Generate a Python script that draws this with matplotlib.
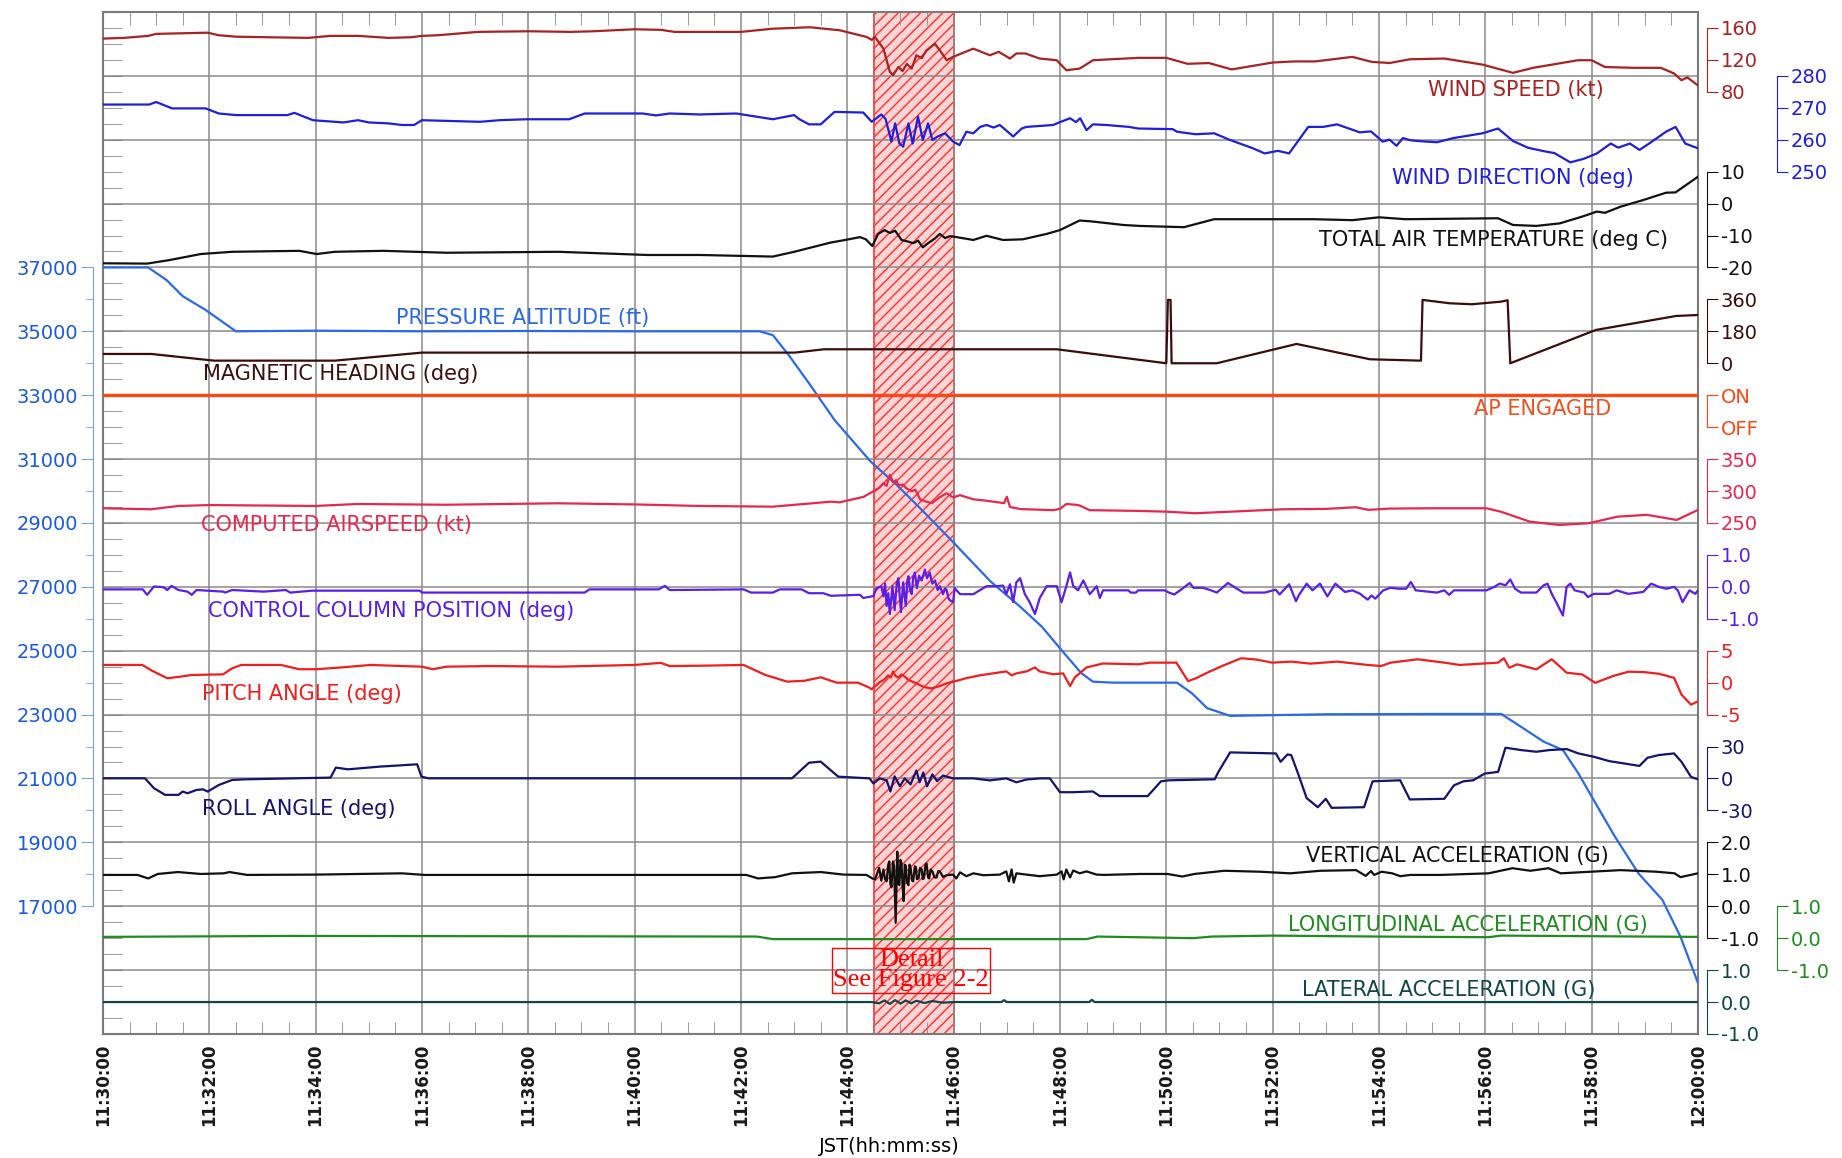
import numpy as np
import matplotlib.pyplot as plt
from matplotlib.ticker import MultipleLocator

# time axis: minutes after 11:30:00 JST
time_ticks = list(range(0, 31, 2))
time_labels = ['11:%02d:00' % (30 + m) if m < 30 else '12:00:00' for m in time_ticks]

# ---- series: (minute, value) ----
wind_speed = [(0, 146.6), (0.4, 147.5), (0.85, 150), (1.0, 152.5), (1.5, 153.3), (1.97, 154), (2.18, 150.8),
              (2.5, 149), (3.1, 148.3), (3.86, 147.5), (4.28, 150), (4.8, 150), (5.37, 147.5), (5.8, 148.3),
              (6.0, 150), (6.3, 150.8), (7.05, 155), (8.0, 155.8), (8.8, 155), (9.23, 155.8), (10.0, 158.3),
              (10.5, 157.5), (10.75, 155), (11.23, 155), (12.0, 155), (12.6, 159), (13.3, 160.8), (13.86, 157),
              (14.36, 148.7), (14.46, 145), (14.52, 148.7), (14.68, 134), (14.8, 105), (14.86, 100.8),
              (14.96, 111), (15.04, 106), (15.12, 115), (15.21, 109), (15.3, 125.8), (15.4, 122), (15.49, 132),
              (15.65, 140), (15.74, 132), (15.87, 119.5), (15.99, 123.7), (16.37, 134), (16.68, 125.8),
              (16.85, 130), (17.06, 121.6), (17.18, 128), (17.35, 128), (17.62, 121.6), (17.94, 119.5),
              (18.12, 107), (18.37, 109), (18.62, 119.5), (19.47, 122.5), (20.0, 122.5), (20.4, 115),
              (20.8, 116), (21.23, 108), (22.0, 116.6), (22.4, 118), (22.8, 118), (23.5, 123.7), (23.86, 117.5),
              (24.2, 116), (24.58, 120.7), (25.23, 121.6), (25.95, 114), (26.52, 103.7), (26.9, 110),
              (27.74, 119.5), (28.0, 119.5), (28.25, 111), (28.8, 110), (29.3, 110), (29.55, 103),
              (29.69, 94.5), (29.8, 98), (30, 88)]

wind_dir = [(0, 271), (0.87, 271), (1.0, 271.8), (1.3, 269.8), (1.93, 269.8), (2.18, 268.2), (2.5, 267.7),
            (3.47, 267.7), (3.6, 268.4), (3.95, 266.1), (4.52, 265.4), (4.8, 266.1), (5.0, 265.4), (5.37, 265.1),
            (5.62, 264.6), (5.85, 264.6), (6.0, 266.1), (7.09, 265.6), (7.46, 266.1), (7.97, 266.4),
            (8.77, 266.4), (9.06, 268.2), (10.15, 268.2), (10.4, 267.6), (10.66, 268.2), (11.23, 267.9),
            (11.91, 268.2), (12.6, 266.4), (13.0, 267.7), (13.1, 266.4), (13.28, 264.8), (13.5, 264.8),
            (13.76, 268.7), (14.3, 268.5), (14.46, 265.6), (14.64, 267.9), (14.72, 266.5), (14.83, 259.4),
            (14.9, 265.1), (14.98, 258.8), (15.05, 257.8), (15.15, 265.1), (15.23, 258.8), (15.33, 267.2),
            (15.42, 259.9), (15.52, 265.1), (15.6, 259.9), (15.7, 261), (15.84, 262), (15.99, 259.4),
            (16.11, 258.3), (16.24, 262.5), (16.37, 262), (16.5, 264), (16.62, 264.6), (16.75, 263.8),
            (16.87, 264.6), (17.12, 261), (17.28, 263.5), (17.37, 264), (17.87, 264.6), (18.0, 265.5),
            (18.19, 266.7), (18.3, 265.5), (18.38, 266.7), (18.5, 263), (18.62, 264.8), (18.87, 264.6),
            (19.3, 264), (19.47, 263.5), (20.12, 263.3), (20.2, 262.5), (20.55, 261.7), (20.9, 262),
            (21.2, 259.9), (21.63, 257.3), (21.85, 255.7), (22.1, 256.5), (22.31, 255.7), (22.67, 264),
            (22.95, 264), (23.21, 264.8), (23.64, 262.3), (23.85, 262.6), (24.07, 259.4), (24.2, 260),
            (24.33, 258.1), (24.45, 260.5), (24.6, 259.8), (24.8, 259.5), (25.09, 259.2), (25.4, 260.5),
            (25.95, 262), (26.24, 263.5), (26.52, 259.6), (26.8, 257.5), (27.1, 256.4), (27.3, 255.8),
            (27.6, 252.9), (27.85, 254), (28.1, 255.7), (28.36, 258.8), (28.5, 257.5), (28.72, 258.8),
            (28.9, 256.8), (29.1, 259), (29.4, 262.5), (29.58, 264), (29.76, 258.8), (30, 257.3)]

air_temp = [(0, -18.7), (0.83, -18.8), (1.25, -17.7), (1.84, -15.8), (2.43, -15.1), (3.69, -14.8),
            (4.02, -15.8), (4.36, -15.1), (5.28, -14.8), (6.46, -15.4), (8.56, -15.1), (10.24, -16.1),
            (11.23, -16.1), (12.6, -16.6), (13.0, -15.1), (13.69, -12.2), (13.96, -11.4), (14.24, -10.5),
            (14.35, -11.2), (14.47, -13.3), (14.58, -9.5), (14.7, -8.3), (14.8, -9.2), (14.9, -8.5),
            (15.02, -11.4), (15.12, -11.8), (15.24, -12.4), (15.33, -11.6), (15.42, -13.7), (15.52, -12.4),
            (15.65, -10.9), (15.74, -9.5), (15.84, -10.8), (15.93, -10.2), (16.02, -10.4), (16.37, -11.4),
            (16.62, -10.1), (16.93, -11.4), (17.3, -11.2), (17.75, -9.5), (18.0, -8.3), (18.37, -5.3),
            (18.6, -5.6), (19.19, -6.7), (19.5, -7.0), (20.33, -7.4), (20.9, -4.9), (22.78, -4.9),
            (23.5, -5.2), (24.0, -4.3), (24.5, -4.9), (26.24, -4.6), (26.52, -6.7), (26.96, -7.0),
            (27.4, -6.2), (27.82, -4.1), (28.1, -2.5), (28.25, -2.9), (28.54, -1.0), (28.97, 1.1),
            (29.4, 3.4), (29.58, 3.5), (29.69, 4.8), (30, 8.4)]

altitude = [(0, 37000), (0.85, 37000), (1.2, 36600), (1.5, 36100), (1.93, 35670), (2.5, 35000), (4, 35020),
            (6, 35000), (8, 35010), (10, 35000), (12.35, 35000), (12.6, 34880), (12.9, 34250), (13.28, 33373),
            (13.76, 32224), (14.44, 30920), (14.93, 30190), (15.34, 29510), (15.95, 28470), (16.7, 27160),
            (17.25, 26380), (17.66, 25750), (18.08, 24920), (18.4, 24300), (18.62, 24030), (19, 24000),
            (20.2, 24000), (20.48, 23670), (20.77, 23200), (21.2, 22960), (23, 23010), (25, 23020),
            (26.3, 23020), (26.67, 22620), (27.1, 22150), (27.46, 21890), (27.75, 21160), (28.11, 20120),
            (28.43, 19200), (28.88, 18030), (29.33, 17200), (29.67, 16050), (30, 14600)]

heading = [(0, 52.4), (0.91, 52.4), (2.09, 14.7), (4.36, 14.7), (6.0, 60), (13.01, 60), (13.56, 78.8),
           (17.94, 78.8), (20.0, 0), (20.03, 357), (20.08, 357), (20.1, 0), (20.95, 0), (22.45, 108.8),
           (23.83, 22.5), (24.79, 14.7), (24.82, 357), (25.33, 338), (25.75, 332.5), (26.29, 347),
           (26.42, 355), (26.47, 0), (28.08, 187.7), (29.59, 266.6), (30, 272)]

ap_engaged = [(0, 1), (30, 1)]

airspeed = [(0, 273), (0.9, 271.4), (1.42, 276.6), (2.0, 278), (4.0, 276.6), (4.78, 279.7), (6.46, 278.5),
            (8.56, 280.8), (10.0, 279), (11.23, 276.6), (12.6, 275.5), (13.69, 283.3), (13.86, 282.3),
            (14.31, 291), (14.49, 299.6), (14.6, 305), (14.68, 312), (14.74, 308), (14.8, 325.6), (14.86, 314),
            (14.92, 317), (14.96, 309), (15.05, 310), (15.1, 305), (15.21, 299.6), (15.28, 302), (15.37, 287),
            (15.46, 284), (15.59, 281), (15.74, 290.4), (15.87, 296.5), (15.99, 290), (16.12, 293.5),
            (16.37, 287), (16.6, 285), (16.95, 281), (17.0, 291), (17.06, 275), (17.25, 271.8), (17.87, 270),
            (18.0, 272), (18.12, 279.7), (18.35, 278), (18.56, 270), (19.5, 268.8), (20.0, 267.7),
            (20.54, 265.2), (21.3, 268), (22.19, 271.4), (23.0, 272), (23.56, 274.6), (23.8, 270.5),
            (24.2, 272.5), (25.0, 273), (26.02, 273), (26.29, 267.7), (26.84, 252), (27.39, 246.9),
            (27.94, 249.5), (28.49, 259.9), (29.04, 262.7), (29.6, 254.7), (30, 270.4)]

column = [(0, -0.08), (0.75, -0.08), (0.83, -0.25), (0.96, 0.01), (1.13, -0.01), (1.21, -0.10), (1.29, 0.03),
          (1.42, -0.10), (1.59, -0.15), (1.67, -0.25), (1.76, -0.10), (2.26, -0.15), (2.3, -0.18),
          (2.43, -0.10), (3.02, -0.15), (3.44, -0.10), (3.52, -0.18), (3.94, -0.12), (5.96, -0.12),
          (6.0, -0.18), (9.06, -0.18), (9.15, -0.08), (10.45, -0.08), (10.57, 0.03), (10.66, -0.10),
          (12.05, -0.08), (12.19, -0.18), (12.6, -0.18), (12.73, -0.08), (13.14, -0.08), (13.28, -0.2),
          (13.55, -0.2), (13.69, -0.28), (14.24, -0.25), (14.3, -0.35), (14.49, -0.29), (14.55, -0.04),
          (14.64, 0.02), (14.68, -0.3), (14.71, 0.1), (14.74, -0.60), (14.77, -0.2), (14.8, -0.85),
          (14.85, 0.02), (14.89, -0.73), (14.93, 0.1), (14.96, 0.27), (15.01, -0.79), (15.05, 0.14),
          (15.08, -0.3), (15.1, -0.6), (15.13, 0.2), (15.15, 0.33), (15.18, -0.1), (15.21, -0.23),
          (15.24, 0.3), (15.27, 0.45), (15.31, -0.04), (15.35, 0.35), (15.4, 0.20), (15.46, 0.54),
          (15.5, 0.27), (15.55, 0.45), (15.6, 0.1), (15.65, 0.20), (15.7, -0.1), (15.74, 0.02), (15.8, -0.23),
          (15.84, -0.05), (15.87, -0.11), (15.9, -0.35), (15.93, -0.42), (15.99, -0.48), (16.02, -0.04),
          (16.12, -0.23), (16.37, -0.23), (16.49, -0.11), (16.62, 0.02), (16.81, 0.02), (16.93, 0.04),
          (16.99, -0.23), (17.06, 0.08), (17.12, -0.48), (17.18, 0.14), (17.25, 0.27), (17.34, -0.23),
          (17.43, -0.48), (17.53, -0.85), (17.62, -0.35), (17.75, 0.02), (17.94, 0.02), (18.03, -0.48),
          (18.12, 0.02), (18.19, 0.45), (18.25, 0.02), (18.34, -0.11), (18.44, 0.20), (18.56, -0.23),
          (18.69, 0.02), (18.75, -0.35), (18.81, -0.11), (19.29, -0.11), (19.33, -0.18), (19.43, -0.18),
          (19.47, -0.11), (19.97, -0.11), (20.05, -0.18), (20.15, -0.24), (20.3, -0.06), (20.44, 0.12),
          (20.51, -0.03), (20.69, -0.03), (20.84, -0.11), (20.95, -0.18), (21.16, 0.12), (21.27, 0.0),
          (21.45, -0.18), (21.85, -0.18), (22.06, -0.09), (22.13, -0.24), (22.31, 0.08), (22.44, -0.45),
          (22.49, -0.27), (22.64, 0.10), (22.75, -0.11), (22.89, 0.10), (23.03, -0.30), (23.18, 0.10),
          (23.36, -0.16), (23.5, -0.11), (23.65, -0.22), (23.72, -0.32), (23.79, -0.40), (23.86, -0.27),
          (23.93, -0.37), (24.08, -0.11), (24.22, -0.03), (24.37, -0.06), (24.51, -0.06), (24.6, 0.15),
          (24.69, -0.11), (25.09, -0.18), (25.23, -0.11), (25.32, -0.25), (25.41, -0.11), (26.02, -0.11),
          (26.17, 0.0), (26.27, 0.10), (26.38, 0.05), (26.47, 0.23), (26.56, -0.06), (26.67, -0.18),
          (26.96, -0.18), (27.1, 0.05), (27.17, 0.10), (27.25, -0.22), (27.35, -0.53), (27.46, -0.90),
          (27.53, 0.0), (27.6, 0.10), (27.68, -0.11), (27.86, -0.18), (27.93, -0.32), (28.04, -0.22),
          (28.33, -0.22), (28.47, -0.11), (28.69, -0.22), (28.97, -0.16), (29.12, 0.10), (29.26, 0.0),
          (29.41, -0.06), (29.55, 0.0), (29.62, -0.11), (29.71, -0.48), (29.84, -0.11), (29.95, -0.22),
          (30, -0.11)]

pitch = [(0, 2.77), (0.74, 2.77), (0.92, 1.88), (1.21, 0.69), (1.42, 0.9), (1.67, 1.2), (2.26, 1.3), (2.43, 2.25),
         (2.6, 2.77), (3.35, 2.77), (3.69, 2.1), (4.0, 2.1), (4.44, 2.35), (5.03, 2.77), (6.0, 2.5), (6.2, 2.1),
         (6.46, 2.5), (7.3, 2.6), (8.56, 2.5), (10.0, 2.77), (10.49, 3.1), (10.66, 2.6), (11.23, 2.65),
         (12.05, 2.77), (12.46, 1.2), (12.87, 0.16), (13.2, 0.3), (13.5, 0.84), (13.8, 0.0), (14.2, 0.0),
         (14.4, -0.72), (14.46, -1.03), (14.61, 0.08), (14.7, 0.5), (14.77, 1.14), (14.82, 0.8), (14.86, 1.76),
         (14.91, 1.0), (14.96, 0.83), (15.02, 1.3), (15.08, 0.95), (15.14, 0.5), (15.21, 0.2), (15.3, -0.1),
         (15.37, -0.41), (15.46, -0.72), (15.58, -0.91), (15.74, -0.54), (15.87, -0.1), (16.02, 0.2),
         (16.24, 0.7), (16.49, 1.14), (16.74, 1.45), (16.99, 1.76), (17.09, 1.14), (17.18, 1.45), (17.37, 1.76),
         (17.53, 2.38), (17.62, 1.76), (17.87, 1.32), (18.06, 1.45), (18.19, -0.54), (18.28, 0.83),
         (18.5, 2.38), (18.81, 3.0), (19.47, 2.87), (19.69, 3.13), (20.19, 3.13), (20.41, 0.24), (20.55, 0.66),
         (20.77, 1.56), (21.05, 2.61), (21.41, 3.82), (21.7, 3.61), (21.99, 3.13), (22.35, 3.29), (22.71, 2.98),
         (23.21, 3.29), (23.79, 2.77), (24.04, 2.61), (24.22, 3.13), (24.73, 3.66), (25.23, 3.13),
         (25.52, 2.77), (26.24, 3.13), (26.35, 3.82), (26.45, 2.34), (26.6, 2.87), (26.96, 2.08),
         (27.25, 3.66), (27.39, 2.61), (27.53, 1.56), (27.82, 1.29), (28.07, -0.03), (28.4, 1.03),
         (28.69, 1.71), (28.97, 1.66), (29.26, 1.40), (29.55, 0.76), (29.69, -1.87), (29.87, -3.45),
         (30, -2.92)]

roll = [(0, 0.16), (0.79, 0.16), (0.96, -9.2), (1.17, -15.4), (1.42, -15.4), (1.5, -12.3), (1.59, -13.9),
        (1.76, -10.8), (1.88, -10.2), (1.97, -12.3), (2.18, -6.1), (2.43, -1.4), (2.68, -0.8), (4.28, 0.8),
        (4.38, 10.2), (4.61, 8.6), (5.2, 11.1), (5.91, 13.3), (5.99, 1.7), (6.12, 0.16), (11.23, 0.16),
        (12.96, 0.16), (13.28, 14.8), (13.5, 15.8), (13.83, 1.7), (14.42, 0.08), (14.49, -4.75),
        (14.61, 0.08), (14.74, -1.8), (14.81, -12.2), (14.89, 1.95), (14.99, -7.3), (15.08, 0.08),
        (15.19, -5.5), (15.3, 7.5), (15.36, -3.6), (15.43, 5.6), (15.5, -7.3), (15.6, 3.8), (15.69, -2.5),
        (15.8, 2.7), (15.99, 0.08), (16.37, 0.08), (16.68, -1.8), (16.99, 0.08), (17.18, -3.6), (17.37, -1.0),
        (17.62, 0.08), (17.81, 0.08), (18.0, -12.9), (18.25, -12.9), (18.62, -12.2), (18.75, -16.56),
        (19.65, -16.56), (19.9, -2.67), (20.05, -1.73), (20.91, -0.78), (20.98, 6.17), (21.2, 24.48),
        (22.06, 23.53), (22.15, 15.64), (22.28, 22.59), (22.35, 21.95), (22.49, 3.01), (22.64, -18.46),
        (22.85, -26.99), (23.0, -19.09), (23.11, -27.6), (23.72, -26.99), (23.88, -2.67), (24.4, -1.73),
        (24.58, -19.7), (25.23, -19.09), (25.41, -6.46), (25.59, -2.67), (25.77, -1.73), (25.99, 4.6),
        (26.24, 6.17), (26.38, 28.9), (26.67, 26.69), (26.96, 25.1), (27.21, 26.69), (27.53, 27.6),
        (27.75, 23.53), (28.04, 20.4), (28.33, 16.3), (28.61, 14.1), (28.9, 11.8), (29.05, 19.4),
        (29.26, 21.95), (29.55, 23.53), (29.69, 15.64), (29.87, 1.44), (30, -0.78)]

vert_acc = [(0, 0.98), (0.65, 0.98), (0.85, 0.87), (1.03, 1.01), (1.41, 1.07), (1.84, 1.01), (2.27, 1.03),
            (2.38, 1.07), (2.71, 0.98), (4.0, 0.99), (5.62, 1.03), (6.05, 0.98), (12.1, 0.98), (12.32, 0.87),
            (12.64, 0.91), (12.96, 1.03), (13.5, 1.07), (13.93, 0.99), (14.36, 0.98), (14.47, 0.87),
            (14.52, 0.84), (14.6, 1.2), (14.64, 0.8), (14.68, 1.15), (14.71, 0.85), (14.74, 0.78), (14.77, 1.3),
            (14.79, 1.40), (14.81, 0.7), (14.83, 0.59), (14.86, 1.4), (14.88, 1.27), (14.91, -0.52),
            (14.94, 1.71), (14.96, 0.7), (14.98, 0.66), (15.0, 1.45), (15.02, 1.34), (15.04, 0.6),
            (15.06, 0.16), (15.08, 1.3), (15.1, 1.27), (15.12, 0.75), (15.15, 0.66), (15.17, 1.3),
            (15.19, 1.21), (15.22, 0.8), (15.24, 0.78), (15.27, 1.25), (15.29, 1.23), (15.31, 0.85),
            (15.34, 0.87), (15.37, 1.2), (15.4, 1.15), (15.42, 0.85), (15.44, 0.87), (15.47, 1.3),
            (15.49, 1.34), (15.52, 0.9), (15.54, 0.87), (15.57, 1.15), (15.6, 1.09), (15.64, 0.9),
            (15.68, 0.90), (15.71, 1.1), (15.74, 1.09), (15.8, 0.92), (15.87, 0.97), (15.99, 0.99),
            (16.05, 0.87), (16.12, 1.06), (16.24, 0.94), (16.37, 1.03), (16.56, 0.97), (16.87, 0.99),
            (16.99, 1.09), (17.04, 0.78), (17.09, 1.15), (17.13, 0.74), (17.18, 1.03), (17.37, 0.99),
            (17.62, 0.94), (17.94, 0.99), (18.03, 1.09), (18.07, 0.84), (18.12, 1.15), (18.19, 0.90),
            (18.25, 1.12), (18.37, 1.03), (18.5, 1.09), (18.69, 0.99), (18.83, 0.98), (19.51, 1.01),
            (20.02, 1.01), (20.3, 0.93), (20.53, 1.01), (21.09, 1.11), (21.77, 1.08), (22.33, 1.03),
            (22.9, 1.11), (23.57, 1.13), (23.75, 0.95), (23.85, 1.1), (23.91, 0.98), (24.05, 1.08),
            (24.25, 1.03), (24.4, 0.94), (24.59, 0.98), (25.16, 0.98), (26.06, 1.03), (26.51, 1.19),
            (26.85, 1.11), (27.19, 1.19), (27.42, 1.03), (27.98, 1.08), (28.55, 1.13), (29.22, 1.08),
            (29.56, 1.03), (29.67, 0.91), (30, 1.03)]

long_acc = [(0, 0.04), (3.5, 0.07), (12.3, 0.05), (12.6, -0.03), (18.5, -0.03), (18.71, 0.05), (20.5, 0.0),
            (20.86, 0.05), (22.0, 0.08), (24.03, 0.05), (26.06, 0.03), (26.3, 0.08), (30, 0.04)]

lat_acc = [(0, 0.0), (14.45, 0.0), (14.6, -0.04), (14.7, 0.05), (14.8, -0.06), (14.9, 0.06), (15.0, -0.05),
           (15.1, 0.05), (15.2, -0.04), (15.3, 0.04), (15.45, -0.03), (15.6, 0.03), (15.8, -0.02), (16.0, 0.0),
           (16.9, 0.0), (16.95, 0.06), (17.0, 0.0), (18.55, 0.0), (18.6, 0.07), (18.65, 0.0), (30, 0.0)]

plt.rcParams['hatch.linewidth'] = 1.0
fig = plt.figure(figsize=(18.42, 11.58), dpi=100)
base = fig.add_axes([0.0559, 0.1071, 0.8659, 0.8826])
base.set_xlim(0, 30)
base.set_ylim(0, 16)

# frame, grid and inner ticks
for s in base.spines.values():
    s.set_color('#7a7a7a')
    s.set_linewidth(1.5)
base.set_xticks(time_ticks, time_labels, rotation=90, fontsize=12, fontweight='bold')
base.xaxis.set_minor_locator(MultipleLocator(0.5))
base.yaxis.set_major_locator(MultipleLocator(1))
base.yaxis.set_minor_locator(MultipleLocator(0.25))
base.tick_params(axis='x', which='both', direction='in', top=True, bottom=True, color='#8a8a8a', pad=7)
base.tick_params(axis='x', which='minor', length=9)
base.tick_params(axis='x', which='major', length=0, labelcolor='#1a1a1a')
base.tick_params(axis='y', which='both', direction='in', left=True, right=True, length=14,
                 color='#8a8a8a', labelleft=False)
base.set_axisbelow(True)
base.grid(which='major', color='#8a8a8a', lw=1.1)
base.axvspan(14.5, 16.0, facecolor='#ffd4d4', edgecolor='#ff3030', hatch='///', lw=1.2, zorder=0.3)


def add_param(data, anchors, ticks, labels, color, offset=6.5, lw=1.6):
    t, v = np.array(data).T
    (va, ua), (vb, ub) = anchors
    k = (vb - va) / (ub - ua)
    tw = base.twinx()
    tw.set_ylim(va - ua * k, va + (16 - ua) * k)
    tw.plot(t, v, color=color, lw=lw)
    for s in ['left', 'top', 'bottom']:
        tw.spines[s].set_visible(False)
    sp = tw.spines['right']
    sp.set_position(('outward', offset))
    sp.set_bounds(min(ticks), max(ticks))
    sp.set_color(color)
    tw.set_yticks(ticks, labels)
    tw.tick_params(axis='y', direction='out', length=8, color=color, labelcolor=color,
                   labelsize=14, pad=2)
    return tw


# pressure altitude on its own left scale
alt_t, alt_v = np.array(altitude).T
ax_alt = base.twinx()
ax_alt.set_ylim(13000, 45000)
ax_alt.plot(alt_t, alt_v, color='#2a6ae8', lw=1.6)
ax_alt.yaxis.tick_left()
for s in ['right', 'top', 'bottom']:
    ax_alt.spines[s].set_visible(False)
ax_alt.spines['left'].set_visible(True)
ax_alt.spines['left'].set_position(('outward', 7))
ax_alt.spines['left'].set_bounds(17000, 37000)
ax_alt.spines['left'].set_color('#7aa0f0')
ax_alt.set_yticks(range(17000, 37001, 2000))
ax_alt.set_yticks(range(18000, 37000, 2000), minor=True)
ax_alt.tick_params(axis='y', which='major', length=9, color='#7aa0f0', labelcolor='#1a5ade',
                   labelsize=14, pad=2)
ax_alt.tick_params(axis='y', which='minor', length=5, color='#7aa0f0')

add_param(wind_speed, [(80, 14.75), (160, 15.75)], [80, 120, 160], ['80', '120', '160'], '#a82222')
add_param(wind_dir, [(250, 13.5), (280, 15)], [250, 260, 270, 280], ['250', '260', '270', '280'],
          '#1e1edc', offset=57)
add_param(air_temp, [(-20, 12), (10, 13.5)], [-20, -10, 0, 10], ['-20', '-10', '0', '10'], '#111111')
add_param(heading, [(0, 10.5), (360, 11.5)], [0, 180, 360], ['0', '180', '360'], '#3c0c0c')
add_param(ap_engaged, [(0, 9.5), (1, 10)], [0, 1], ['OFF', 'ON'], '#ff4614', lw=2.4)
add_param(airspeed, [(250, 8), (350, 9)], [250, 300, 350], ['250', '300', '350'], '#e6284e')
add_param(column, [(-1, 6.5), (1, 7.5)], [-1, 0, 1], ['-1.0', '0.0', '1.0'], '#5a1ee6')
add_param(pitch, [(-5, 5), (5, 6)], [-5, 0, 5], ['-5', '0', '5'], '#f01e1e')
add_param(roll, [(-30, 3.5), (30, 4.5)], [-30, 0, 30], ['-30', '0', '30'], '#14146e')
add_param(vert_acc, [(-1, 1.5), (2, 3)], [-1, 0, 1, 2], ['-1.0', '0.0', '1.0', '2.0'], '#111111')
add_param(long_acc, [(-1, 1), (1, 2)], [-1, 0, 1], ['-1.0', '0.0', '1.0'], '#1e8c1e', offset=57)
add_param(lat_acc, [(-1, 0), (1, 1)], [-1, 0, 1], ['-1.0', '0.0', '1.0'], '#0f4646')

# parameter names
names = [('WIND SPEED (kt)', 26.58, 14.78, '#a82222'),
         ('WIND DIRECTION (deg)', 26.51, 13.40, '#1e1edc'),
         ('TOTAL AIR TEMPERATURE (deg C)', 26.16, 12.43, '#111111'),
         ('PRESSURE ALTITUDE (ft)', 7.89, 11.21, '#2a6ae8'),
         ('MAGNETIC HEADING (deg)', 4.47, 10.33, '#3c1010'),
         ('AP ENGAGED', 27.08, 9.78, '#f0501e'),
         ('COMPUTED AIRSPEED (kt)', 4.40, 7.97, '#e6284e'),
         ('CONTROL COLUMN POSITION (deg)', 5.42, 6.62, '#5a1ee6'),
         ('PITCH ANGLE (deg)', 3.74, 5.32, '#f01e1e'),
         ('ROLL ANGLE (deg)', 3.68, 3.52, '#14146e'),
         ('VERTICAL ACCELERATION (G)', 25.48, 2.79, '#111111'),
         ('LONGITUDINAL ACCELERATION (G)', 25.68, 1.71, '#1e8c1e'),
         ('LATERAL ACCELERATION (G)', 25.31, 0.69, '#0f4646')]
for txt, x, y, c in names:
    base.text(x, y, txt, ha='center', va='center', color=c, fontsize=15)

base.text(15.2, 1.0, 'Detail\nSee Figure 2-2', ha='center', va='center', color='red',
          family='Liberation Serif', fontsize=19, linespacing=0.9,
          bbox=dict(boxstyle='square,pad=0.05', fc='none', ec='red', lw=1))

fig.text(0.4826, 0.0095, 'JST(hh:mm:ss)', ha='center', va='center', fontsize=14)

fig.savefig('out.png', dpi=100)
